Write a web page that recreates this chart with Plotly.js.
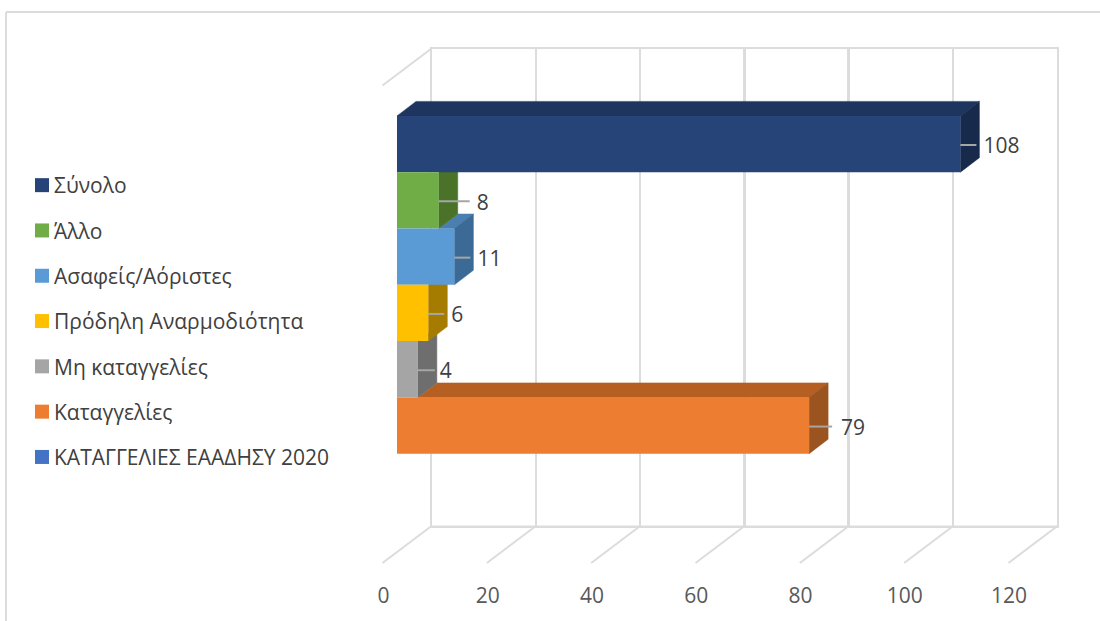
<!DOCTYPE html>
<html>
<head>
<meta charset="utf-8">
<script src="https://cdn.plot.ly/plotly-3.0.1.min.js"></script>
<style>html,body{margin:0;padding:0;background:#fff}#chart{width:1100px;height:621px}</style>
</head>
<body>
<div id="chart"></div>
<script>
// ---- data (top to bottom, as in the legend) ----
var seriesNames = ["Σύνολο", "Άλλο", "Ασαφείς/Αόριστες", "Πρόδηλη Αναρμοδιότητα", "Μη καταγγελίες", "Καταγγελίες", "ΚΑΤΑΓΓΕΛΙΕΣ ΕΑΑΔΗΣΥ 2020"];
var seriesValues = [108, 8, 11, 6, 4, 79, null];
var tickValues = [0, 20, 40, 60, 80, 100, 120];

// ---- styles ----
var frontColors = ["#264478", "#70AD47", "#5B9BD5", "#FFC000", "#A5A5A5", "#ED7D31", "#4472C4"];
var topColors   = ["#1E365F", "#59893A", "#4A7FAF", "#CC9A00", "#848484", "#B65F22", "#365B9C"];
var sideColors  = ["#172A4B", "#4A7229", "#3A6A95", "#A67C00", "#6E6E6E", "#9B5320", "#2A4880"];
var leaderPx = [16, 31, 16, 16, 17, 23, 0];
var labelPx  = [23, 38, 23, 23, 22, 32, 0];

var W = 1100, H = 621;
var PX_PER_UNIT = 626 / 120;
var BAND_PX = 56.3;
var DEPTH_X = 19 / PX_PER_UNIT;   // bar depth, in value units
var DEPTH_Y = 14.5 / BAND_PX;     // bar depth, in band units
var FLOOR_X = 49 / PX_PER_UNIT;   // wall -> front edge of the floor
var WALL_LEFT = 431.5, WALL_TOP = 48.5, WALL_BOTTOM = 526, FLOOR_DROP = 37;
var WALL_H = WALL_BOTTOM - WALL_TOP;
var gridColor = "#DCDCDC";
var fontFamily = '"Open Sans", "Noto Sans", sans-serif';

var traces = [];

// back wall: the edge where it meets the floor (also makes the wall axes draw)
traces.push({
  type: "scatter", mode: "lines", x: tickValues, y: tickValues.map(function () { return 0; }),
  xaxis: "x", yaxis: "y", line: {color: gridColor, width: 1}, showlegend: false, hoverinfo: "skip"
});

// floor ticks and the left-hand diagonal, in wall coordinates
var floorX = [], floorY = [];
var floorDY = FLOOR_DROP / WALL_H;
tickValues.forEach(function (t) {
  floorX.push(t, t - FLOOR_X, null);
  floorY.push(0, -floorDY, null);
});
floorX.push(0, -FLOOR_X, null);
floorY.push(1, 1 - floorDY, null);
traces.push({
  type: "scatter", mode: "lines", x: floorX, y: floorY, xaxis: "x4", yaxis: "y4",
  line: {color: gridColor, width: 2}, showlegend: false, hoverinfo: "skip"
});

// depth faces, painted from the lowest bar up
var n = seriesValues.length;
function bandOf(i) { return n - 1 - i; } // band 0 is the lowest
function face(xs, ys, color) {
  traces.push({
    type: "scatter", mode: "lines", x: xs.concat([xs[0]]), y: ys.concat([ys[0]]),
    xaxis: "x2", yaxis: "y2", fill: "toself", fillcolor: color,
    line: {color: color, width: 0.5}, showlegend: false, hoverinfo: "skip"
  });
}
for (var i = n - 1; i >= 0; i--) {
  var v = seriesValues[i];
  if (v === null) continue;
  var b = bandOf(i);
  // top face: only the part not covered by the bar above it
  var above = i > 0 ? seriesValues[i - 1] : 0;
  if (above < v) {
    face([above, v, v + DEPTH_X, above + DEPTH_X], [b + 1, b + 1, b + 1 + DEPTH_Y, b + 1 + DEPTH_Y], topColors[i]);
  }
  // end face
  face([v, v + DEPTH_X, v + DEPTH_X, v], [b, b + DEPTH_Y, b + 1 + DEPTH_Y, b + 1], sideColors[i]);
}

// front faces + legend entries
seriesNames.forEach(function (name, i) {
  traces.push({
    type: "bar", orientation: "h", name: name, legendgroup: "g" + i,
    x: [seriesValues[i]], y: [bandOf(i) + 0.5], width: 1,
    xaxis: "x3", yaxis: "y3",
    marker: {color: frontColors[i]}, hoverinfo: "x+name"
  });
});

// leader lines and value labels
var leadX = [], leadY = [], labX = [], labY = [], labT = [];
var LEADER_DROP = 1 / BAND_PX, LABEL_DROP = 4 / BAND_PX;
seriesValues.forEach(function (v, i) {
  if (v === null) return;
  var yc = bandOf(i) + 0.5;
  leadX.push(v, v + leaderPx[i] / PX_PER_UNIT, null);
  leadY.push(yc - LEADER_DROP, yc - LEADER_DROP, null);
  labX.push(v + labelPx[i] / PX_PER_UNIT);
  labY.push(yc - LABEL_DROP);
  labT.push(String(v));
});
traces.push({
  type: "scatter", mode: "lines", x: leadX, y: leadY, xaxis: "x3", yaxis: "y3",
  line: {color: "#A6A6A6", width: 2}, showlegend: false, hoverinfo: "skip"
});
traces.push({
  type: "scatter", mode: "text", x: labX, y: labY, text: labT, textposition: "middle right",
  xaxis: "x3", yaxis: "y3", textfont: {family: fontFamily, size: 21, color: "#404040"},
  cliponaxis: false, showlegend: false, hoverinfo: "skip"
});

function hidden(extra) {
  return Object.assign({visible: true, showgrid: false, zeroline: false, showline: false,
    showticklabels: false, ticks: "", fixedrange: true}, extra);
}
var barDomainX = [397 / W, 1023 / W];
var barRangeX = [0, 120];
var barDomainY = [1 - 510 / H, 1 - 59.6 / H];
var barRangeY = [0, 8];

var layout = {
  width: W, height: H,
  margin: {l: 0, r: 0, t: 0, b: 0},
  paper_bgcolor: "#FFFFFF", plot_bgcolor: "rgba(0,0,0,0)",
  barmode: "overlay",
  font: {family: fontFamily, color: "#404040"},
  xaxis: {
    domain: [WALL_LEFT / W, 1057 / W], range: [0, 120], anchor: "y",
    tickmode: "array", tickvals: tickValues, ticktext: tickValues.map(String),
    showgrid: true, gridcolor: gridColor, gridwidth: 2.5, zeroline: false,
    showline: true, linecolor: gridColor, linewidth: 2, mirror: true,
    ticks: "", ticklabelstandoff: 50, ticklabelshift: -48,
    tickfont: {family: fontFamily, size: 21, color: "#595959"}, fixedrange: true
  },
  yaxis: {
    domain: [1 - WALL_BOTTOM / H, 1 - WALL_TOP / H], range: [0, 1], anchor: "x",
    showgrid: false, zeroline: false, showticklabels: false, ticks: "",
    showline: true, linecolor: gridColor, linewidth: 2, mirror: true, fixedrange: true
  },
  xaxis2: hidden({domain: barDomainX, range: barRangeX, anchor: "y2"}),
  yaxis2: hidden({domain: barDomainY, range: barRangeY, anchor: "x2"}),
  xaxis3: hidden({domain: barDomainX, range: barRangeX, anchor: "y3"}),
  yaxis3: hidden({domain: barDomainY, range: barRangeY, anchor: "x3"}),
  // full-page axes sharing the wall's scale, for the floor lines outside the wall
  xaxis4: hidden({domain: [0, 1], range: [-WALL_LEFT / PX_PER_UNIT, (W - WALL_LEFT) / PX_PER_UNIT], anchor: "y4"}),
  yaxis4: hidden({domain: [0, 1], range: [(WALL_BOTTOM - H) / WALL_H, WALL_BOTTOM / WALL_H], anchor: "x4"}),
  legend: {
    x: 14 / W, xanchor: "left", y: 1 - 165 / H, yanchor: "top",
    bgcolor: "rgba(0,0,0,0)", tracegroupgap: 15, traceorder: "grouped",
    font: {family: fontFamily, size: 21, color: "#404040"}
  },
  shapes: [
    {type: "line", xref: "paper", yref: "paper", x0: 6 / W, x1: 6 / W, y0: 0, y1: 1 - 12 / H, line: {color: gridColor, width: 2}},
    {type: "line", xref: "paper", yref: "paper", x0: 6 / W, x1: 1, y0: 1 - 12 / H, y1: 1 - 12 / H, line: {color: gridColor, width: 2}}
  ]
};

Plotly.newPlot("chart", traces, layout, {displayModeBar: false, staticPlot: true}).then(function () {
  // match the source's tight swatch-to-text spacing
  document.querySelectorAll("#chart .legend .legendpoints path").forEach(function (p) {
    p.setAttribute("d", "M7,7H-7V-7H7Z");
    p.setAttribute("transform", "translate(28,0)");
  });
});
</script>
</body>
</html>
